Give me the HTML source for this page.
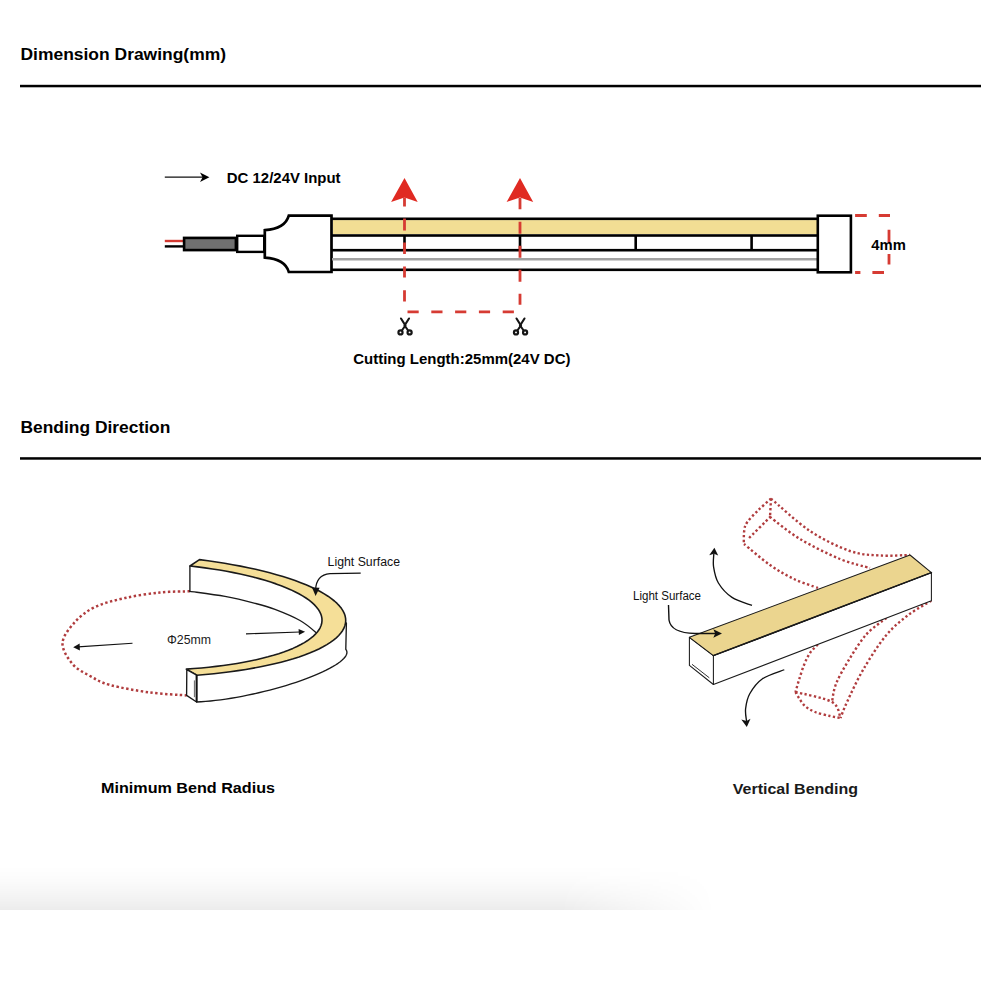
<!DOCTYPE html>
<html><head><meta charset="utf-8"><style>
html,body{margin:0;padding:0;background:#fff;width:1000px;height:1000px;overflow:hidden}
svg{position:absolute;left:0;top:0}
text{font-family:"Liberation Sans",sans-serif}
.band{position:absolute;left:0;top:866px;width:1000px;height:44px;
background:linear-gradient(to bottom,rgba(0,0,0,0) 0,rgba(0,0,0,0.012) 12px,rgba(0,0,0,0.03) 24px,rgba(0,0,0,0.05) 34px,rgba(0,0,0,0.075) 44px);
-webkit-mask-image:linear-gradient(to right,#000 0,#000 560px,rgba(0,0,0,0.5) 640px,rgba(0,0,0,0) 715px);
mask-image:linear-gradient(to right,#000 0,#000 560px,rgba(0,0,0,0.5) 640px,rgba(0,0,0,0) 715px)}
</style></head><body>
<div class="band"></div>
<svg width="1000" height="1000" viewBox="0 0 1000 1000">
<text x="20.5" y="59.8" font-size="17.4" font-weight="bold" fill="#000" textLength="205.5" lengthAdjust="spacingAndGlyphs">Dimension Drawing(mm)</text>
<rect x="20" y="84.8" width="961" height="2.5" fill="#000"/>
<text x="20.5" y="432.6" font-size="17.4" font-weight="bold" fill="#000" textLength="149.8" lengthAdjust="spacingAndGlyphs">Bending Direction</text>
<rect x="20" y="457.2" width="961" height="2.5" fill="#000"/>
<line x1="164.8" y1="177.2" x2="204" y2="177.2" stroke="#111" stroke-width="1.3"/>
<path d="M209.4,177.2 L200,172.4 L202.6,177.2 L200,182 Z" fill="#000"/>
<text x="226.8" y="182.8" font-size="14.5" font-weight="bold" fill="#000" textLength="113.8" lengthAdjust="spacingAndGlyphs">DC 12/24V Input</text>
<line x1="164.8" y1="241" x2="184" y2="241" stroke="#d43a32" stroke-width="2.4"/>
<line x1="164.8" y1="246.4" x2="184" y2="246.4" stroke="#000" stroke-width="2.4"/>
<rect x="184.1" y="237.9" width="51.8" height="12.2" fill="#707070" stroke="#000" stroke-width="2.6"/>
<rect x="237.2" y="235.8" width="27" height="16.1" fill="#fff" stroke="#000" stroke-width="2.4"/>
<path d="M264.8,230.2 Q285,229 288.8,215.7 L331.5,215.7 L331.5,272 L288.8,272 Q285,258.8 264.8,257.6 Z" fill="#fff" stroke="#000" stroke-width="2.7"/>
<rect x="333" y="220.1" width="484" height="14" fill="#f2de94"/>
<rect x="332" y="217.5" width="486" height="2.6" fill="#000"/>
<rect x="332" y="234.2" width="486" height="2.6" fill="#000"/>
<rect x="332" y="248.89999999999998" width="486" height="2.6" fill="#000"/>
<rect x="332" y="268.5" width="486" height="2.6" fill="#000"/>
<rect x="332" y="258" width="486" height="2.5" fill="#a2a2a2"/>
<rect x="403.2" y="236" width="2.6" height="14" fill="#000"/>
<rect x="518.7" y="236" width="2.6" height="14" fill="#000"/>
<rect x="634.4000000000001" y="236" width="2.6" height="14" fill="#000"/>
<rect x="750.3000000000001" y="236" width="2.6" height="14" fill="#000"/>
<rect x="817.8" y="215.7" width="33.1" height="56.6" fill="#fff" stroke="#000" stroke-width="2.6"/>
<g stroke="#d63b33" stroke-width="2.8" fill="none">
<line x1="404.5" y1="197.5" x2="404.5" y2="311.8" stroke-dasharray="9.1 11.9 11.9 12 11.7 12.3 11.2 12.6 11.2 12.6 9"/>
<line x1="520" y1="198" x2="520" y2="311.8" stroke-dasharray="11.3 12.5 12 12 12 12 12 12 11 13.3 11"/>
<line x1="407.5" y1="311.8" x2="514.5" y2="311.8" stroke-dasharray="11.2 12.6"/>
<path d="M855.1,215.5 H890" stroke-dasharray="11.7 12 11.2 20"/>
<path d="M889,229.8 V264.6" stroke-dasharray="13 11.3 11 20"/>
<path d="M855.1,272.5 H884" stroke-dasharray="5.3 12 11.6 20"/>
</g>
<path d="M404.5,178 L417.7,202 L404.5,197.4 L391.1,202 Z" fill="#e02a22"/>
<path d="M520,178 L533.2,202 L520,197.4 L506.6,202 Z" fill="#e02a22"/>
<text x="871.3" y="250" font-size="14.5" font-weight="bold" fill="#000" textLength="34.5" lengthAdjust="spacingAndGlyphs">4mm</text>
<g fill="none" stroke="#151515" stroke-linecap="round"><path d="M401,318.5 L405.4,325.5 L402.2,330" stroke-width="2.1"/><path d="M409,318.5 L404.6,325.5 L407.8,330" stroke-width="2.1"/><circle cx="400.5" cy="332.4" r="2.05" stroke-width="2.2"/><circle cx="409.6" cy="332.4" r="2.05" stroke-width="2.2"/></g>
<g fill="none" stroke="#151515" stroke-linecap="round"><path d="M516.5,318.5 L520.9,325.5 L517.7,330" stroke-width="2.1"/><path d="M524.5,318.5 L520.1,325.5 L523.3,330" stroke-width="2.1"/><circle cx="516.0" cy="332.4" r="2.05" stroke-width="2.2"/><circle cx="525.1" cy="332.4" r="2.05" stroke-width="2.2"/></g>
<text x="353.2" y="364.4" font-size="14.5" font-weight="bold" fill="#000" textLength="217.3" lengthAdjust="spacingAndGlyphs">Cutting Length:25mm(24V DC)</text>
<path d="M189.90,591.30 C184.92,591.50 170.82,591.38 160.00,592.50 C149.18,593.62 135.83,595.58 125.00,598.00 C114.17,600.42 103.33,603.00 95.00,607.00 C86.67,611.00 80.42,616.00 75.00,622.00 C69.58,628.00 62.92,636.00 62.50,643.00 C62.08,650.00 67.92,658.50 72.50,664.00 C77.08,669.50 83.75,672.50 90.00,676.00 C96.25,679.50 100.00,682.25 110.00,685.00 C120.00,687.75 137.23,690.77 150.00,692.50 C162.77,694.23 180.50,694.92 186.60,695.40" fill="none" stroke="#b03c3e" stroke-width="2.5" stroke-dasharray="2.4 2.5"/>
<path d="M189.90,591.30 C195.75,592.15 214.15,594.40 225.00,596.40 C235.85,598.40 246.67,601.13 255.00,603.30 C263.33,605.47 267.50,606.53 275.00,609.40 C282.50,612.27 293.08,616.57 300.00,620.50 C306.92,624.43 313.00,629.92 316.50,633.00 C320.00,636.08 320.25,638.00 321.00,639.00" fill="none" stroke="#1a1a1a" stroke-width="1.35" stroke-linejoin="round" stroke-linecap="round"/>
<path d="M189.9,566.1 V591.3" fill="none" stroke="#1a1a1a" stroke-width="1.35" stroke-linejoin="round" stroke-linecap="round"/>
<path d="M199.47,559.65 L208.00,560.78 L216.38,562.00 L224.59,563.31 L232.63,564.69 L240.49,566.16 L248.14,567.72 L255.58,569.34 L262.79,571.05 L269.77,572.82 L276.50,574.67 L282.97,576.58 L289.17,578.55 L295.09,580.58 L300.73,582.67 L306.06,584.81 L311.09,587.01 L315.81,589.25 L320.20,591.53 L324.26,593.85 L327.99,596.20 L331.37,598.59 L334.41,601.00 L337.09,603.44 L339.42,605.90 L341.39,608.37 L342.99,610.85 L344.23,613.35 L345.10,615.84 L345.59,618.34 L345.72,620.83 L345.48,623.31 L344.87,625.78 L343.89,628.24 L342.54,630.67 L340.82,633.08 L338.75,635.46 L336.31,637.81 L333.52,640.12 L330.37,642.39 L326.88,644.62 L323.06,646.81 L318.89,648.94 L314.40,651.02 L309.59,653.04 L304.47,655.00 L299.04,656.90 L293.32,658.73 L287.31,660.49 L281.02,662.18 L274.47,663.79 L267.67,665.33 L260.62,666.78 L253.33,668.15 L245.82,669.44 L238.11,670.64 L230.20,671.75 L222.10,672.78 L213.83,673.70 L205.41,674.54 L196.84,675.28 L186.29,669.08 L193.93,668.56 L201.47,667.94 L208.88,667.23 L216.15,666.42 L223.28,665.53 L230.25,664.54 L237.04,663.47 L243.65,662.31 L250.05,661.06 L256.25,659.74 L262.23,658.33 L267.97,656.85 L273.47,655.29 L278.71,653.67 L283.70,651.97 L288.41,650.21 L292.84,648.39 L296.98,646.50 L300.83,644.57 L304.37,642.58 L307.61,640.54 L310.53,638.46 L313.13,636.34 L315.40,634.18 L317.34,631.99 L318.95,629.77 L320.22,627.53 L321.16,625.27 L321.75,622.99 L322.00,620.69 L321.92,618.39 L321.48,616.09 L320.71,613.78 L319.60,611.48 L318.15,609.19 L316.37,606.92 L314.26,604.65 L311.81,602.42 L309.05,600.20 L305.97,598.02 L302.57,595.87 L298.87,593.75 L294.87,591.68 L290.57,589.65 L285.99,587.67 L281.14,585.75 L276.02,583.88 L270.64,582.07 L265.01,580.32 L259.15,578.63 L253.05,577.02 L246.75,575.48 L240.24,574.01 L233.53,572.62 L226.65,571.31 L219.59,570.08 L212.39,568.94 L205.04,567.88 L197.56,566.91 L189.97,566.03 Z" fill="#f5df98" stroke="#1a1a1a" stroke-width="1.6" stroke-linejoin="round"/>
<path d="M196.63,701.98 L201.08,701.75 L205.72,701.42 L210.54,700.98 L215.51,700.44 L220.62,699.80 L225.86,699.06 L231.20,698.23 L236.62,697.31 L242.10,696.30 L247.63,695.21 L253.18,694.03 L258.74,692.78 L264.28,691.46 L269.79,690.07 L275.24,688.62 L280.61,687.11 L285.89,685.55 L291.06,683.94 L296.09,682.30 L300.98,680.62 L305.69,678.91 L310.22,677.18 L314.55,675.44 L318.67,673.68 L322.55,671.93 L326.18,670.17 L329.56,668.43 L332.66,666.70 L335.49,664.99 L338.02,663.32 L340.25,661.67 L342.16,660.07 L343.77,658.52 L345.05,657.01 L346.00,655.56 L346.63,654.18 L346.92,652.86 L346.87,651.61 L346.50,650.44 L345.79,649.36 L346.4,623" fill="none" stroke="#1a1a1a" stroke-width="1.35" stroke-linejoin="round" stroke-linecap="round"/>
<path d="M186.8,669.6 L196.6,675.1 L196.6,702 L186.6,695.4 Z" fill="#fff" stroke="#1a1a1a" stroke-width="1.35" stroke-linejoin="round" stroke-linecap="round"/>
<path d="M194.4,680.4 V697.2" stroke="#555" stroke-width="0.9"/>
<path d="M196.6,675.1 V702" stroke="#111" stroke-width="1.9"/>
<line x1="132.5" y1="643.3" x2="78" y2="646.9" stroke="#111" stroke-width="1.1"/>
<path d="M73.2,647.2 L79.6,643.6 L79.9,650.4 Z" fill="#111"/>
<line x1="246" y1="633.9" x2="300" y2="632" stroke="#111" stroke-width="1.1"/>
<path d="M305.1,631.8 L298.6,628.9 L298.9,635.1 Z" fill="#111"/>
<text x="167" y="643.9" font-size="12.4" font-weight="normal" fill="#1a1a1a" textLength="44" lengthAdjust="spacingAndGlyphs">Φ25mm</text>
<path d="M360.7,573.1 L330,573.6 Q316,575 315.6,590" fill="none" stroke="#111" stroke-width="1.3"/>
<path d="M315.6,596 L312,587.4 L319.6,587.8 Z" fill="#111"/>
<text x="327.6" y="566.4" font-size="12.3" font-weight="normal" fill="#111" textLength="72.4" lengthAdjust="spacingAndGlyphs">Light Surface</text>
<text x="101" y="793.4" font-size="15.4" font-weight="bold" fill="#000" textLength="174" lengthAdjust="spacingAndGlyphs">Minimum Bend Radius</text>
<path d="M771.00,498.60 C768.83,500.58 762.00,506.52 758.00,510.50 C754.00,514.48 749.30,519.08 747.00,522.50 C744.70,525.92 744.73,527.42 744.20,531.00 C743.67,534.58 743.87,541.83 743.80,544.00" fill="none" stroke="#b03c3e" stroke-width="2.4" stroke-dasharray="2.3 2.4"/>
<path d="M771.00,498.60 C770.83,501.67 770.17,513.93 770.00,517.00" fill="none" stroke="#b03c3e" stroke-width="2.4" stroke-dasharray="2.3 2.4"/>
<path d="M770.75,516.40 C766.89,520.25 751.46,535.65 747.60,539.50" fill="none" stroke="#b03c3e" stroke-width="2.4" stroke-dasharray="2.3 2.4"/>
<path d="M771.00,498.60 C777.50,504.00 796.83,522.27 810.00,531.00 C823.17,539.73 838.33,546.92 850.00,551.00 C861.67,555.08 870.00,554.83 880.00,555.50 C890.00,556.17 905.00,555.08 910.00,555.00" fill="none" stroke="#b03c3e" stroke-width="2.4" stroke-dasharray="2.3 2.4"/>
<path d="M770.00,517.00 C775.00,520.67 788.33,532.00 800.00,539.00 C811.67,546.00 828.33,554.17 840.00,559.00 C851.67,563.83 865.00,566.50 870.00,568.00" fill="none" stroke="#b03c3e" stroke-width="2.4" stroke-dasharray="2.3 2.4"/>
<path d="M744.00,544.00 C748.33,547.50 761.67,559.17 770.00,565.00 C778.33,570.83 786.00,575.17 794.00,579.00 C802.00,582.83 814.00,586.50 818.00,588.00" fill="none" stroke="#b03c3e" stroke-width="2.4" stroke-dasharray="2.3 2.4"/>
<path d="M817.80,644.50 C816.50,645.92 812.30,649.58 810.00,653.00 C807.70,656.42 805.83,660.50 804.00,665.00 C802.17,669.50 800.42,675.50 799.00,680.00 C797.58,684.50 796.08,690.00 795.50,692.00" fill="none" stroke="#b03c3e" stroke-width="2.4" stroke-dasharray="2.3 2.4"/>
<path d="M886.40,618.00 C883.07,620.73 872.67,627.40 866.40,634.40 C860.13,641.40 853.87,651.73 848.80,660.00 C843.73,668.27 838.80,677.00 836.00,684.00 C833.20,691.00 832.67,699.00 832.00,702.00" fill="none" stroke="#b03c3e" stroke-width="2.4" stroke-dasharray="2.3 2.4"/>
<path d="M931.20,600.80 C927.33,603.20 915.60,609.33 908.00,615.20 C900.40,621.07 893.07,626.93 885.60,636.00 C878.13,645.07 869.60,658.67 863.20,669.60 C856.80,680.53 850.98,693.53 847.20,701.60 C843.42,709.67 841.62,715.27 840.50,718.00" fill="none" stroke="#b03c3e" stroke-width="2.4" stroke-dasharray="2.3 2.4"/>
<path d="M795.50,692.00 C801.58,693.67 824.50,697.67 832.00,702.00 C839.50,706.33 839.08,715.33 840.50,718.00" fill="none" stroke="#b03c3e" stroke-width="2.4" stroke-dasharray="2.3 2.4"/>
<path d="M795.50,692.00 C796.08,693.00 797.42,695.67 799.00,698.00 C800.58,700.33 802.33,703.67 805.00,706.00 C807.67,708.33 810.83,710.33 815.00,712.00 C819.17,713.67 825.75,715.00 830.00,716.00 C834.25,717.00 838.75,717.67 840.50,718.00" fill="none" stroke="#b03c3e" stroke-width="2.4" stroke-dasharray="2.3 2.4"/>
<path d="M689.4,637.3 L713.4,655.6 L931.4,572.6 L931.4,600.8 L713.4,684.5 L689.4,665.4 Z" fill="#fff" stroke="#1a1a1a" stroke-width="1.05" stroke-linejoin="round"/>
<path d="M713.4,655.6 V684.5" fill="none" stroke="#1a1a1a" stroke-width="1.05" stroke-linejoin="round"/>
<path d="M689.4,637.3 L910,555 L931.4,572.6 L713.4,655.6 Z" fill="#ebd58f" stroke="#1a1a1a" stroke-width="1.05" stroke-linejoin="round"/>
<path d="M713.4,655.6 L931.4,572.6" stroke="#1a1a1a" stroke-width="1.5" stroke-linecap="round"/>
<path d="M692,664.3 L709.3,677.8" stroke="#333" stroke-width="1"/>
<path d="M752.00,605.40 C748.67,604.07 737.60,601.13 732.00,597.40 C726.40,593.67 721.47,588.07 718.40,583.00 C715.33,577.93 714.37,571.83 713.60,567.00 C712.83,562.17 713.77,556.17 713.80,554.00" fill="none" stroke="#111" stroke-width="1.35"/>
<path d="M714.4,547.8 L709.2,555.2 L714,553.8 L718.2,555.6 Z" fill="#111"/>
<path d="M784.30,669.75 C780.67,671.25 768.26,674.75 762.50,678.75 C756.74,682.75 752.57,688.75 749.75,693.75 C746.93,698.75 746.14,704.21 745.60,708.75 C745.06,713.29 746.35,718.96 746.50,721.00" fill="none" stroke="#111" stroke-width="1.35"/>
<path d="M746.8,727.1 L741.3,719.5 L746.5,721 L750.5,718.8 Z" fill="#111"/>
<path d="M668.5,605 L669,620 Q671,633 695,633.5 L716,633.5" fill="none" stroke="#111" stroke-width="1.4"/>
<path d="M722,633.5 L713.3,629.3 L715.2,633.5 L713.3,637.7 Z" fill="#111"/>
<text x="633" y="600.2" font-size="12" font-weight="normal" fill="#111" textLength="68" lengthAdjust="spacingAndGlyphs">Light Surface</text>
<text x="732.75" y="794" font-size="15.4" font-weight="bold" fill="#1a1a1a" textLength="125.3" lengthAdjust="spacingAndGlyphs">Vertical Bending</text>
</svg>
</body></html>
